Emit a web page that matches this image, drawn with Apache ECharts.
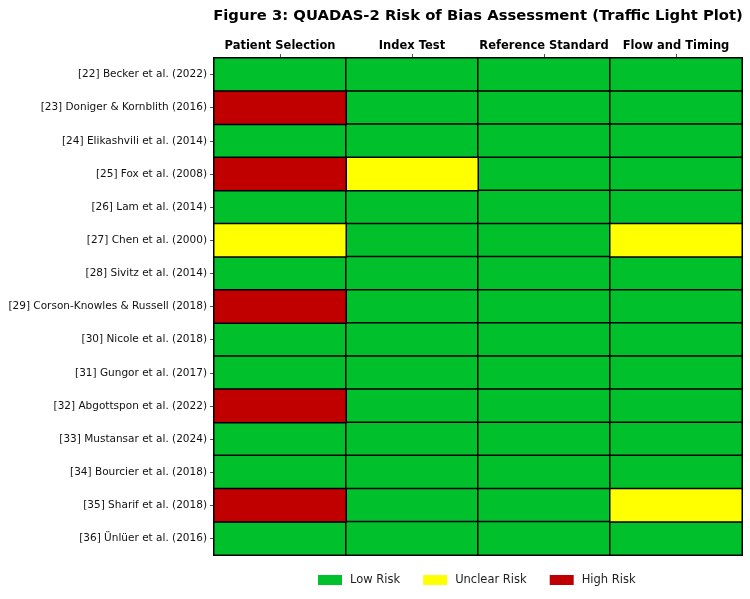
<!DOCTYPE html>
<html>
<head>
<meta charset="utf-8">
<script src="https://cdn.jsdelivr.net/npm/echarts@6/dist/echarts.min.js"></script>
<style>
  html, body { margin: 0; padding: 0; background: #fff; }
  #chart { width: 750px; height: 599px; }
</style>
</head>
<body>
<div id="chart"></div>
<script>
  // studies top to bottom
  const studies = [
    '[22] Becker et al. (2022)',
    '[23] Doniger & Kornblith (2016)',
    '[24] Elikashvili et al. (2014)',
    '[25] Fox et al. (2008)',
    '[26] Lam et al. (2014)',
    '[27] Chen et al. (2000)',
    '[28] Sivitz et al. (2014)',
    '[29] Corson-Knowles & Russell (2018)',
    '[30] Nicole et al. (2018)',
    '[31] Gungor et al. (2017)',
    '[32] Abgottspon et al. (2022)',
    '[33] Mustansar et al. (2024)',
    '[34] Bourcier et al. (2018)',
    '[35] Sharif et al. (2018)',
    '[36] Ünlüer et al. (2016)'
  ]
  const domains = ['Patient Selection', 'Index Test', 'Reference Standard', 'Flow and Timing']
  const levels = ['Low Risk', 'Unclear Risk', 'High Risk']
  const levelColors = ['#00c02c', '#ffff00', '#c00000']

  // L = low, U = unclear, H = high, one array per domain
  const patientSelection = ['L', 'H', 'L', 'H', 'L', 'U', 'L', 'H', 'L', 'L', 'H', 'L', 'L', 'H', 'L']
  const indexTest        = ['L', 'L', 'L', 'U', 'L', 'L', 'L', 'L', 'L', 'L', 'L', 'L', 'L', 'L', 'L']
  const referenceStd     = ['L', 'L', 'L', 'L', 'L', 'L', 'L', 'L', 'L', 'L', 'L', 'L', 'L', 'L', 'L']
  const flowTiming       = ['L', 'L', 'L', 'L', 'L', 'U', 'L', 'L', 'L', 'L', 'L', 'L', 'L', 'U', 'L']
  const ratings = [patientSelection, indexTest, referenceStd, flowTiming]
  const codes = ['L', 'U', 'H']

  let series = levels.map((name, li) => {
    let data = []
    ratings.forEach((col, ci) => {
      col.forEach((r, ri) => {
        if (r === codes[li]) data.push([ci, ri, li])
      })
    })
    return {
      name: name,
      type: 'heatmap',
      data: data,
      itemStyle: { color: levelColors[li], borderColor: '#000', borderWidth: 1.5 },
      emphasis: { disabled: true }
    }
  })

  let myChart = echarts.init(document.getElementById('chart'))
  let option = {
    animation: false,
    textStyle: { fontFamily: 'DejaVu Sans' },
    title: {
      text: 'Figure 3: QUADAS-2 Risk of Bias Assessment (Traffic Light Plot)',
      left: 473,
      textAlign: 'center',
      top: 4,
      textStyle: { fontFamily: 'DejaVu Sans', fontSize: 14.8, fontWeight: 'bold', color: '#000' }
    },
    grid: { left: 214, right: 8, top: 58, bottom: 44 },
    legend: {
      bottom: 8,
      left: 313,
      itemWidth: 24,
      itemHeight: 10,
      itemGap: 23,
      icon: 'rect',
      data: levels,
      itemStyle: { borderWidth: 0 },
      textStyle: { fontFamily: 'DejaVu Sans', fontSize: 11.5, color: '#222', padding: [0, 0, 0, 3] }
    },
    xAxis: {
      type: 'category',
      position: 'top',
      data: domains,
      axisLine: { show: true, lineStyle: { color: '#777' } },
      axisTick: { show: true, alignWithLabel: true, length: 4, lineStyle: { color: '#555' } },
      axisLabel: { fontSize: 11.5, fontWeight: 'bold', color: '#000', margin: 6, interval: 0 },
      splitLine: { show: false }
    },
    yAxis: {
      type: 'category',
      inverse: true,
      data: studies,
      axisLine: { show: true, lineStyle: { color: '#777' } },
      axisTick: { show: true, alignWithLabel: true, length: 4, lineStyle: { color: '#555' } },
      axisLabel: { fontSize: 10.5, color: '#111', margin: 7, interval: 0 },
      splitLine: { show: false }
    },
    series: series
  }
  myChart.setOption(option)
</script>
</body>
</html>
